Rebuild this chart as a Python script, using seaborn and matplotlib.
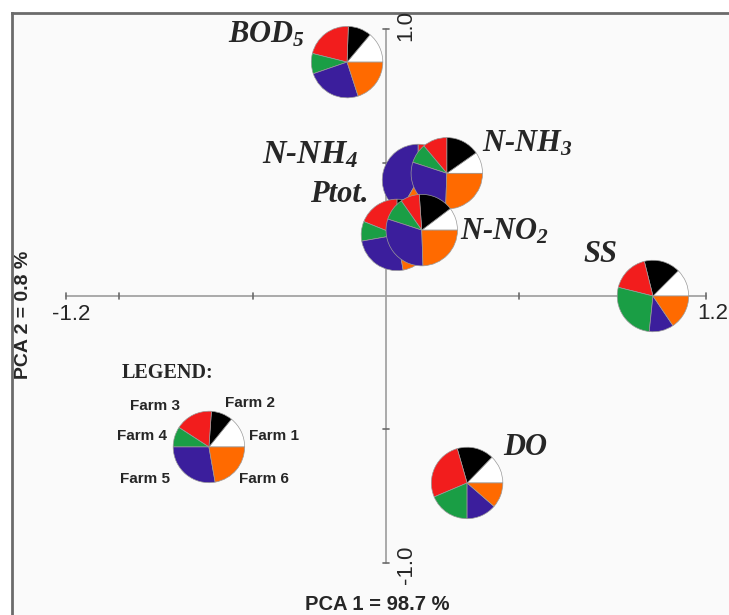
import numpy as np
import matplotlib
matplotlib.use('Agg')
import matplotlib.pyplot as plt
import seaborn as sns

# PCA loadings of the water quality parameters
variables = ['BOD5', 'N-NH4', 'N-NH3', 'Ptot.', 'N-NO2', 'SS', 'DO']
pc1 = [-0.146, 0.120, 0.228, 0.041, 0.134, 1.001, 0.304]
pc2 = [0.877, 0.435, 0.460, 0.229, 0.247, 0.000, -0.701]

# share of each farm in every pie (degrees, Farm 1 ... Farm 6)
farms = ['Farm 1', 'Farm 2', 'Farm 3', 'Farm 4', 'Farm 5', 'Farm 6']
shares = {
    'BOD5': [50, 38, 78, 33, 89, 72],
    'N-NH4': [40, 40, 10, 0, 150, 120],
    'N-NH3': [35, 55, 40, 32, 106, 92],
    'Ptot.': [45, 45, 68, 32, 90, 80],
    'N-NO2': [37, 57, 31, 37, 110, 88],
    'SS': [45, 59, 62, 98, 40, 56],
    'DO': [46, 60, 97, 67, 49, 41],
}
legend_pos = (-0.664, -0.566)
legend_share = [51, 35, 61, 33, 100, 80]

xticks = [-1.2, -1.0, -0.5, 0.5, 1.0, 1.2]
yticks = [1.0, 0.5, -0.5, -1.0]

# text, x, y, font size
labels = {
    'BOD5': ('BOD$_5$', -0.592, 0.949, 22),
    'N-NH4': ('N-NH$_4$', -0.465, 0.499, 23.5),
    'N-NH3': ('N-NH$_3$', 0.360, 0.540, 22),
    'Ptot.': ('Ptot.', -0.285, 0.352, 22),
    'N-NO2': ('N-NO$_2$', 0.277, 0.210, 22),
    'SS': ('SS', 0.739, 0.127, 22),
    'DO': ('DO', 0.440, -0.596, 22),
}
farm_labels = [
    ('Farm 3', -0.772, -0.427, 'right'),
    ('Farm 2', -0.604, -0.416, 'left'),
    ('Farm 1', -0.514, -0.540, 'left'),
    ('Farm 4', -0.821, -0.540, 'right'),
    ('Farm 5', -0.810, -0.701, 'right'),
    ('Farm 6', -0.551, -0.701, 'left'),
]

sns.set_theme(style='white')
plt.rcParams['font.family'] = ['Liberation Sans', 'DejaVu Sans']
plt.rcParams['mathtext.fontset'] = 'custom'
plt.rcParams['mathtext.it'] = 'Liberation Serif:italic:bold'
plt.rcParams['mathtext.rm'] = 'Liberation Serif:italic:bold'
plt.rcParams['mathtext.bf'] = 'Liberation Serif:italic:bold'

colors = sns.color_palette(['#ffffff', '#000000', '#f21d1d', '#1a9e45', '#3b1e9c', '#ff6a00'])
radius = 0.134

fig = plt.figure(figsize=(7.29, 6.15), dpi=100)
fig.patch.set_facecolor('white')
ax = fig.add_axes([12 / 729, 0, 717 / 729, 602 / 615])
ax.set_facecolor('#fafafa')

# axes through the origin
ax.plot([-1.2, 1.2], [0, 0], color='#a3a3a3', lw=1.3, zorder=1)
ax.plot([0, 0], [-1.0, 1.0], color='#a3a3a3', lw=1.3, zorder=1)
for t in xticks:
    ax.plot([t, t], [-0.013, 0.013], color='#6a6a6a', lw=1.2, zorder=1)
for t in yticks:
    ax.plot([-0.013, 0.013], [t, t], color='#6a6a6a', lw=1.2, zorder=1)

ax.text(-1.181, -0.0675, '-1.2', ha='center', va='center', fontsize=16, clip_on=True)
ax.text(1.226, -0.064, '1.2', ha='center', va='center', fontsize=16, clip_on=True)
ax.text(0.075, 1.016, '1.0', ha='center', va='center', rotation=90, fontsize=16, clip_on=True)
ax.text(0.075, -1.009, '-1.0', ha='center', va='center', rotation=90, fontsize=16, clip_on=True)

# pies
for i, v in enumerate(variables):
    ax.pie(shares[v], colors=colors, center=(pc1[i], pc2[i]), radius=radius,
           startangle=0, counterclock=True, frame=True,
           wedgeprops=dict(edgecolor='#9a9a9a', linewidth=0.5, zorder=2 + i))
    txt, lx, ly, fs = labels[v]
    ax.text(lx, ly, txt, ha='left', va='baseline', fontsize=fs, family='Liberation Serif',
            fontweight='bold', fontstyle='italic', zorder=20)

# legend pie
ax.pie(legend_share, colors=colors, center=legend_pos, radius=radius,
       startangle=0, counterclock=True, frame=True,
       wedgeprops=dict(edgecolor='#9a9a9a', linewidth=0.5, zorder=10))
ax.text(-0.990, -0.307, 'LEGEND:', ha='left', va='baseline', fontsize=14.5,
        family='Liberation Serif', fontweight='bold')
for txt, lx, ly, ha in farm_labels:
    ax.text(lx, ly, txt, ha=ha, va='baseline', fontsize=11, fontweight='bold')

ax.set_aspect('auto')
ax.set_xlim(-1.4024, 1.2861)
ax.set_ylim(-1.1961, 1.0611)
ax.set_xticks([])
ax.set_yticks([])
for s in ['right', 'bottom']:
    ax.spines[s].set_visible(False)
for s in ['top', 'left']:
    ax.spines[s].set_visible(True)
    ax.spines[s].set_color('#6b6b6b')
    ax.spines[s].set_linewidth(2)

fig.text(377 / 729, 1 - 604 / 615, 'PCA 1 = 98.7 %', ha='center', va='center',
         fontsize=14.5, fontweight='bold')
fig.text(24 / 729, 1 - 315 / 615, 'PCA 2 = 0.8 %', ha='center', va='center',
         rotation=90, fontsize=14, fontweight='bold')

fig.savefig('out.png', dpi=100)
